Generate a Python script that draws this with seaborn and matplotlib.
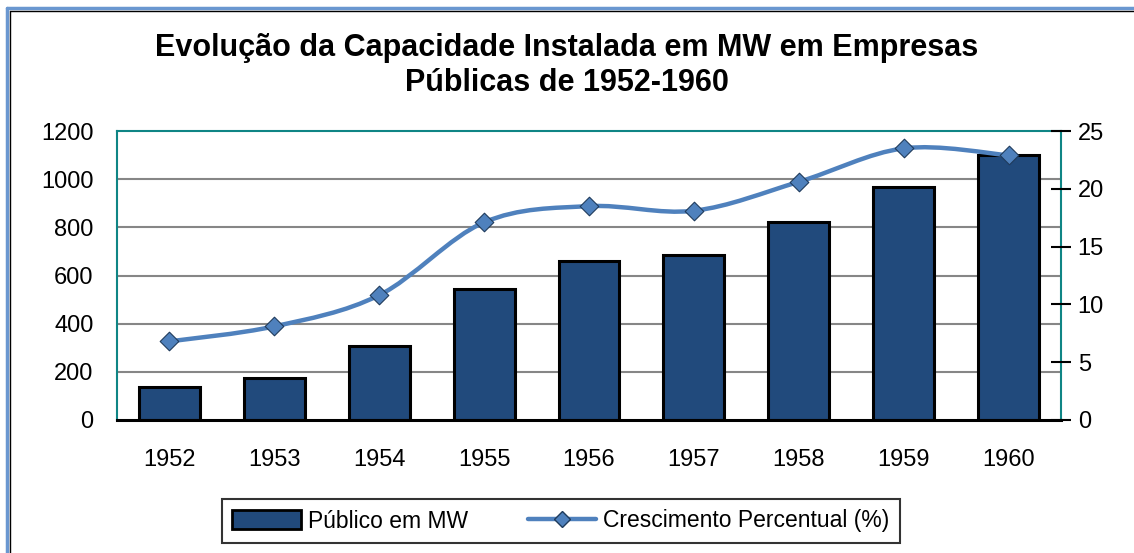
import numpy as np
import matplotlib
matplotlib.use("Agg")
import matplotlib.pyplot as plt
from matplotlib.path import Path
from matplotlib.patches import PathPatch, Patch
from matplotlib.lines import Line2D
import seaborn as sns

# data
years = ["1952", "1953", "1954", "1955", "1956", "1957", "1958", "1959", "1960"]
capacity_mw = [137, 174, 307, 544, 660, 685, 822, 968, 1100]
growth_pct = [6.8, 8.1, 10.8, 17.1, 18.5, 18.1, 20.6, 23.5, 22.9]
left_ticks = [0, 200, 400, 600, 800, 1000, 1200]
right_ticks = [0, 5, 10, 15, 20, 25]

title = "Evolução da Capacidade Instalada em MW em Empresas\nPúblicas de 1952-1960"
bar_label = "Público em MW"
line_label = "Crescimento Percentual (%)"

bar_color = "#214a7c"
line_color = "#4f81bd"
teal = "#0f8585"

sns.set_style("white")
plt.rcParams["font.family"] = ["Liberation Sans", "DejaVu Sans"]
plt.rcParams["text.color"] = "black"
plt.rcParams["xtick.color"] = "black"
plt.rcParams["ytick.color"] = "black"

W, H = 1134, 553
fig = plt.figure(figsize=(W / 100, H / 100), dpi=100)
ax = fig.add_axes([117 / W, 1 - 420 / H, (1061 - 117) / W, (420 - 131) / H])

# bars
sns.barplot(x=years, y=capacity_mw, color=bar_color, saturation=1,
            edgecolor="black", linewidth=2.2, width=0.58, ax=ax, zorder=2)
ax.set_xlim(-0.5, len(years) - 0.5)
ax.set_ylim(0, 1200)
ax.set_yticks(left_ticks)
ax.set_xlabel("")
ax.set_ylabel("")
ax.set_axisbelow(True)
for v in left_ticks[1:-1]:
    ax.axhline(v, color="#868686", lw=1.5, zorder=0)
ax.tick_params(axis="y", length=0, pad=17, labelsize=17)
ax.tick_params(axis="x", length=0, pad=21, labelsize=17)
for side in ["left", "top", "right"]:
    ax.spines[side].set_color(teal)
    ax.spines[side].set_linewidth(1.5)
ax.spines["bottom"].set_color("black")
ax.spines["bottom"].set_linewidth(2.2)
ax.spines["bottom"].set_zorder(3)

# growth line on right axis (smoothed like excel)
ax2 = ax.twinx()
ax2.set_ylim(0, 25)
ax2.set_yticks(right_ticks)
xs = np.arange(len(years))
pts = list(zip(xs, growth_pct))
verts = [pts[0]]
codes = [Path.MOVETO]
n = len(pts)
for i in range(n - 1):
    p0 = np.array(pts[max(i - 1, 0)])
    p1 = np.array(pts[i])
    p2 = np.array(pts[i + 1])
    p3 = np.array(pts[min(i + 2, n - 1)])
    c1 = p1 + (p2 - p0) / 6
    c2 = p2 - (p3 - p1) / 6
    verts += [tuple(c1), tuple(c2), tuple(p2)]
    codes += [Path.CURVE4] * 3
ax2.add_patch(PathPatch(Path(verts, codes), fill=False, edgecolor=line_color,
                        lw=3.2, zorder=3))
sns.scatterplot(x=xs, y=growth_pct, marker="D", s=90, color=line_color,
                edgecolor="#1f3b5c", linewidth=0.8, ax=ax2, zorder=4)
ax2.set_xlim(-0.5, len(years) - 0.5)
for side in ax2.spines:
    ax2.spines[side].set_visible(False)
ax2.tick_params(axis="y", direction="inout", length=14, width=1.5,
                color="black", pad=5, labelsize=17)

fig.suptitle(title, x=0.5, y=0.94, fontsize=22, fontweight="bold",
             linespacing=1.2)

handles = [
    Patch(facecolor=bar_color, edgecolor="black", linewidth=2),
    Line2D([], [], color=line_color, lw=3.2, marker="D", markersize=8,
           markerfacecolor=line_color, markeredgecolor="#1f3b5c"),
]
leg = fig.legend(handles, [bar_label, line_label], loc="center",
                 bbox_to_anchor=(561 / W, 1 - 521 / H), ncol=2,
                 frameon=True, fancybox=False, fontsize=16.5,
                 handlelength=3.0, handletextpad=0.3, columnspacing=2.6,
                 borderpad=0.45, borderaxespad=0, handleheight=0.9)
leg.get_frame().set_edgecolor("black")
leg.get_frame().set_linewidth(1.5)
leg.set_bbox_to_anchor((561 / W, 1 - 521 / H), transform=fig.transFigure)

# outer border (blue with black inner line)
fig.add_artist(Line2D([7 / W, 7 / W], [0, 1 - 8 / H], transform=fig.transFigure,
                      color="#6a97d0", lw=2.5))
fig.add_artist(Line2D([7 / W, 1], [1 - 8 / H, 1 - 8 / H], transform=fig.transFigure,
                      color="#6a97d0", lw=2.5))
fig.add_artist(Line2D([9.5 / W, 9.5 / W], [0, 1 - 10.5 / H], transform=fig.transFigure,
                      color="black", lw=1))
fig.add_artist(Line2D([9.5 / W, 1], [1 - 10.5 / H, 1 - 10.5 / H], transform=fig.transFigure,
                      color="black", lw=1))

fig.savefig("out.png", dpi=100)
